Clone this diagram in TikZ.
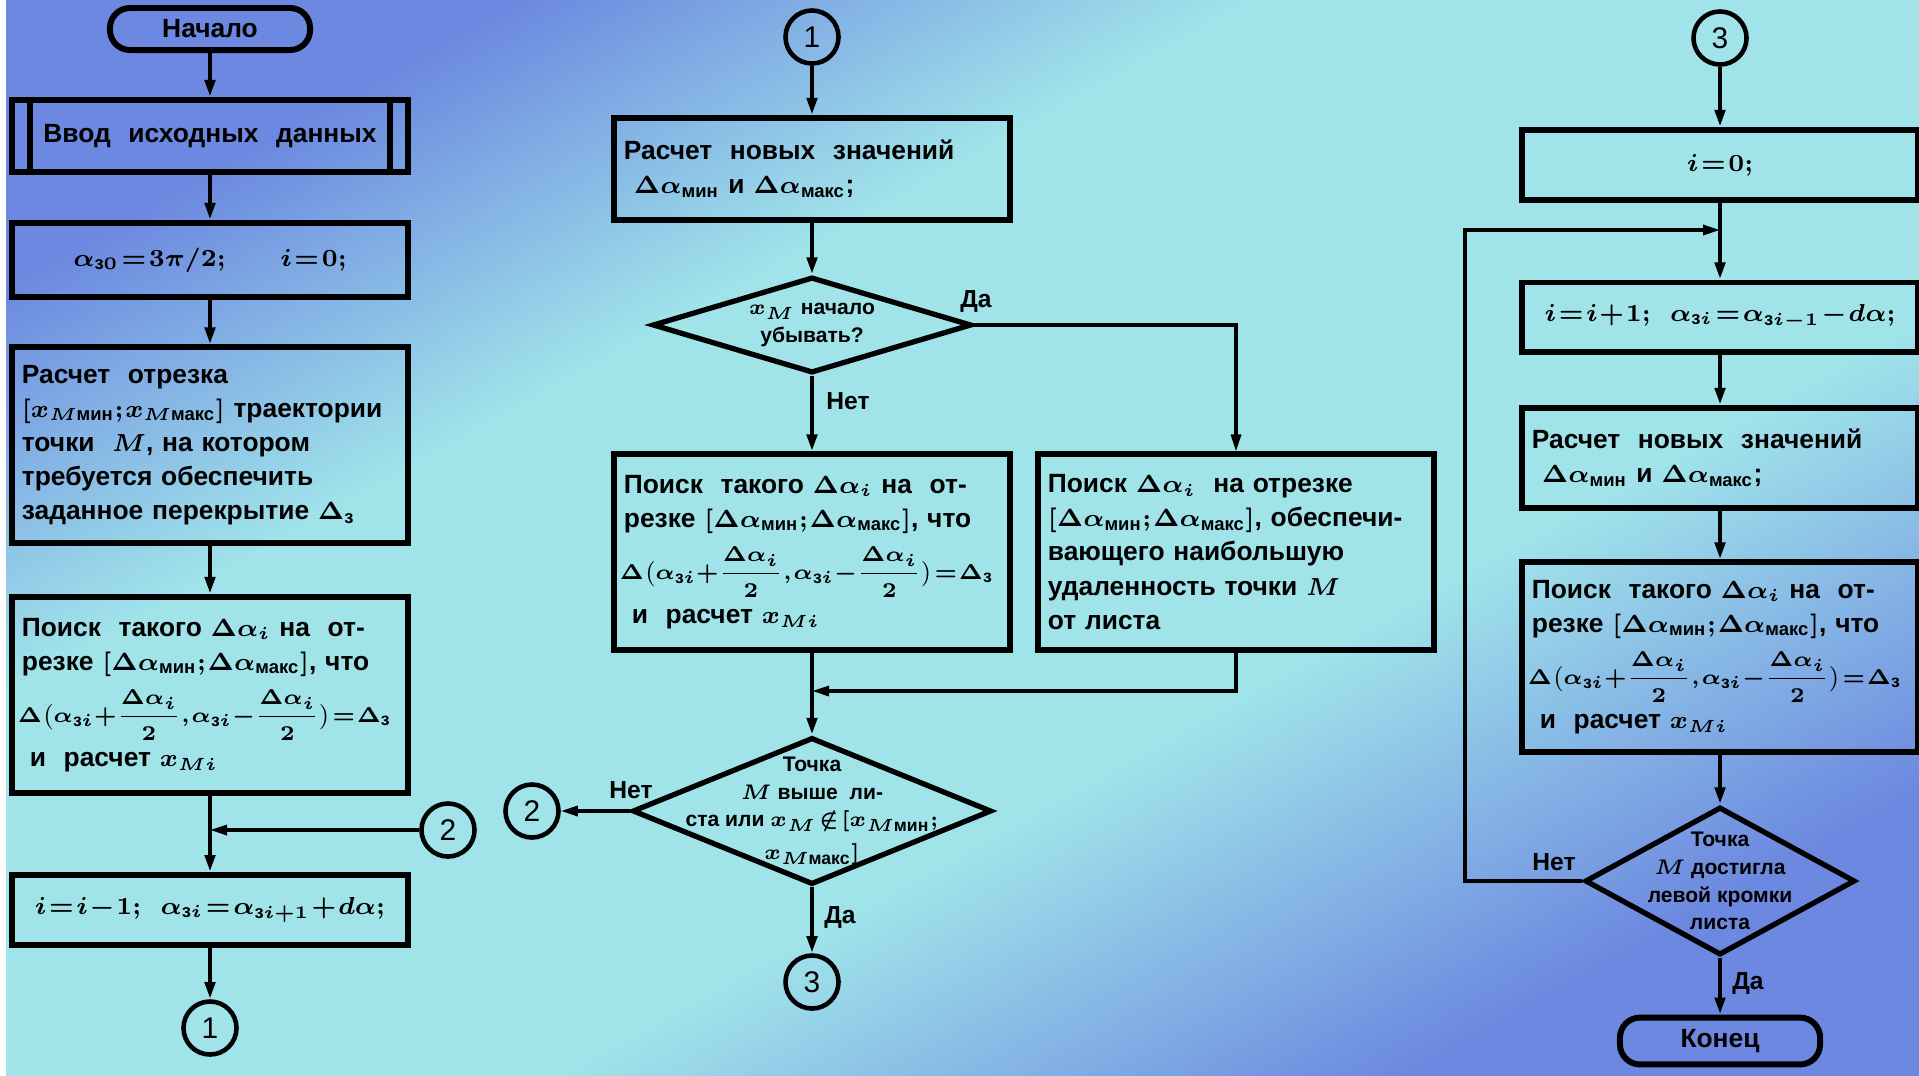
\documentclass[tikz,border=0pt]{standalone}
\usepackage{amsmath}
\usepackage{fontspec}
\setmainfont{Liberation Sans}
\usetikzlibrary{shapes.geometric,arrows.meta}
\definecolor{bgblue}{RGB}{108,136,224}
\definecolor{bgcyan}{RGB}{160,228,234}
\pgfdeclareverticalshading{bgshade}{100bp}{color(0bp)=(bgblue); color(25bp)=(bgblue); color(40bp)=(bgcyan); color(62bp)=(bgcyan); color(75bp)=(bgblue); color(100bp)=(bgblue)}
\newcommand{\tightmath}{\thickmuskip=1.5mu\medmuskip=1mu\thinmuskip=1mu\boldmath}
\newcommand{\blkfont}{\fontsize{7.5}{9.7}\selectfont\bfseries\tightmath}
\newcommand{\decfont}{\fontsize{6}{7.9}\selectfont\bfseries\tightmath}
\newcommand{\zsub}{\text{з}}
\newcommand{\findtext}{Поиск\ \ такого $\Delta\alpha_i$ на\ \ от-\\
резке $[\Delta\alpha_{\text{мин}};\Delta\alpha_{\text{макс}}]$, что\\[3pt]
\hspace*{-0.04cm}\mbox{\fontsize{6}{8}\selectfont\tightmath\medmuskip=0mu\thickmuskip=1mu$\Delta\bigl(\alpha_{\zsub i}+\dfrac{\Delta\alpha_i}{2},\alpha_{\zsub i}-\dfrac{\Delta\alpha_i}{2}\bigr)=\Delta_{\zsub}$}\\[3pt]
\hspace*{0.08cm}и\ \ расчет $x_{Mi}$}

\begin{document}
\begin{tikzpicture}[x=0.01cm,y=-0.01cm,
  block/.style={draw,line width=1.7pt,minimum width=3.96cm,text width=3.76cm,inner xsep=0.1cm,align=left,font=\blkfont},
  eqbox/.style={block,align=center},
  term/.style={draw,line width=1.7pt,rounded corners=0.2cm,minimum width=2cm,minimum height=0.42cm,font=\blkfont},
  decision/.style={draw,diamond,line width=1.5pt,inner sep=0pt},
  dectext/.style={align=center,font=\decfont},
  conn/.style={draw,circle,line width=1.3pt,minimum size=0.53cm,inner sep=0pt,font=\fontsize{8.5}{10}\selectfont},
  flow/.style={line width=1.4pt,-{Triangle[length=0.17cm,width=0.1cm]}},
  side/.style={line width=0.9pt},
  lbl/.style={font=\fontsize{7}{8}\selectfont\bfseries}]
\useasboundingbox (0,0) rectangle (1919,1075);
\fill[white] (0,0) rectangle (1919,1075);
\shade[shading=bgshade,shading angle=29] (6,0) rectangle (1919,1075);

\node[term] (start) at (210,29) {Начало};
\node[eqbox,minimum height=0.72cm] (inp) at (210,136) {Ввод\ \ исходных\ \ данных};
\draw[line width=1.7pt] ([xshift=0.21cm]inp.north west) -- ([xshift=0.21cm]inp.south west)
  ([xshift=-0.21cm]inp.north east) -- ([xshift=-0.21cm]inp.south east);
\node[eqbox,minimum height=0.74cm] (init) at (210,260) {$\alpha_{\zsub0}=3\pi/2;\qquad i=0;$};
\node[block,minimum height=1.95cm] (seg) at (210,445) {Расчет\ \ отрезка\\
  $[x_{M\text{мин}};x_{M\text{макс}}]$ траектории\\
  точки\ \ $M$, на котором\\
  требуется обеспечить\\
  заданное перекрытие $\Delta_{\zsub}$};
\node[block,minimum height=1.96cm] (srch1) at (210,695) {\findtext};
\coordinate (j1) at (210,830);
\node[conn] (c2a) at (448,830) {2};
\node[eqbox,minimum height=0.7cm] (dec) at (210,910) {$i=i-1;\ \ \alpha_{\zsub i}=\alpha_{\zsub i+1}+d\alpha;$};
\node[conn] (c1a) at (210,1028) {1};

\node[conn] (c1b) at (812,37) {1};
\node[block,minimum height=1.02cm] (nv1) at (812,169) {Расчет\ \ новых\ \ значений\\
  \hspace*{0.1cm}$\Delta\alpha_{\text{мин}}$ и $\Delta\alpha_{\text{макс}}$;};
\node[decision,minimum width=3.19cm,minimum height=0.96cm] (d1) at (812,325) {};
\node[dectext] at (d1) {$x_M$ начало\\ убывать?};
\node[block,minimum height=1.95cm] (srch2) at (812,552) {\findtext};
\node[block,minimum height=1.95cm] (srch3) at (1236,552) {Поиск $\Delta\alpha_i$\ \ на отрезке\\
  $[\Delta\alpha_{\text{мин}};\Delta\alpha_{\text{макс}}]$, обеспечи-\\
  вающего наибольшую\\
  удаленность точки $M$\\
  от листа};
\coordinate (j2) at (812,691);
\node[decision,minimum width=3.59cm,minimum height=1.47cm] (d2) at (812,811) {};
\node[dectext] at (d2) {Точка\\ $M$ выше\ \ ли-\\ ста или $x_M\notin[x_{M\text{мин}};$\\[1.5pt] $x_{M\text{макс}}]$};
\node[conn] (c2b) at (532,811) {2};
\node[conn] (c3a) at (812,982) {3};

\node[conn] (c3b) at (1720,38) {3};
\node[eqbox,minimum height=0.7cm] (i0) at (1720,165) {$i=0;$};
\coordinate (j3) at (1720,230);
\node[eqbox,minimum height=0.69cm] (inc) at (1720,317) {$i=i+1;\ \ \alpha_{\zsub i}=\alpha_{\zsub i-1}-d\alpha;$};
\node[block,minimum height=1.0cm] (nv2) at (1720,458) {Расчет\ \ новых\ \ значений\\
  \hspace*{0.1cm}$\Delta\alpha_{\text{мин}}$ и $\Delta\alpha_{\text{макс}}$;};
\node[block,minimum height=1.89cm] (srch4) at (1720,657) {\findtext};
\node[decision,minimum width=2.7cm,minimum height=1.48cm] (d3) at (1720,881) {};
\node[dectext] at (d3) {Точка\\ $M$ достигла\\ левой кромки\\ листа};
\coordinate (lp) at (1465,881);
\node[term] (stop) at (1720,1041) {Конец};

\draw[flow] (start) -- (inp);
\draw[flow] (inp) -- (init);
\draw[flow] (init) -- (seg);
\draw[flow] (seg) -- (srch1);
\draw[flow] (srch1) -- (dec);
\draw[flow,side] (c2a) -- (j1);
\draw[flow] (dec) -- (c1a);
\draw[flow] (c1b) -- (nv1);
\draw[flow] (nv1) -- (d1);
\draw[flow] (d1) -- (srch2);
\draw[flow,side] (d1.east) -| (srch3.north);
\draw[flow] (srch2) -- (d2);
\draw[flow,side] (srch3.south) |- (j2);
\draw[flow,side] (d2.west) -- (c2b);
\draw[flow] (d2) -- (c3a);
\draw[flow] (c3b) -- (i0);
\draw[flow] (i0) -- (inc);
\draw[flow] (inc) -- (nv2);
\draw[flow] (nv2) -- (srch4);
\draw[flow] (srch4) -- (d3);
\draw[flow] (d3) -- (stop);
\draw[flow,side] (d3.west) -- (lp) |- (j3);

\node[lbl] at (976,301) {Да};
\node[lbl] at (848,401) {Нет};
\node[lbl] at (631,790) {Нет};
\node[lbl] at (840,917) {Да};
\node[lbl] at (1554,862) {Нет};
\node[lbl] at (1748,983) {Да};
\end{tikzpicture}
\end{document}
